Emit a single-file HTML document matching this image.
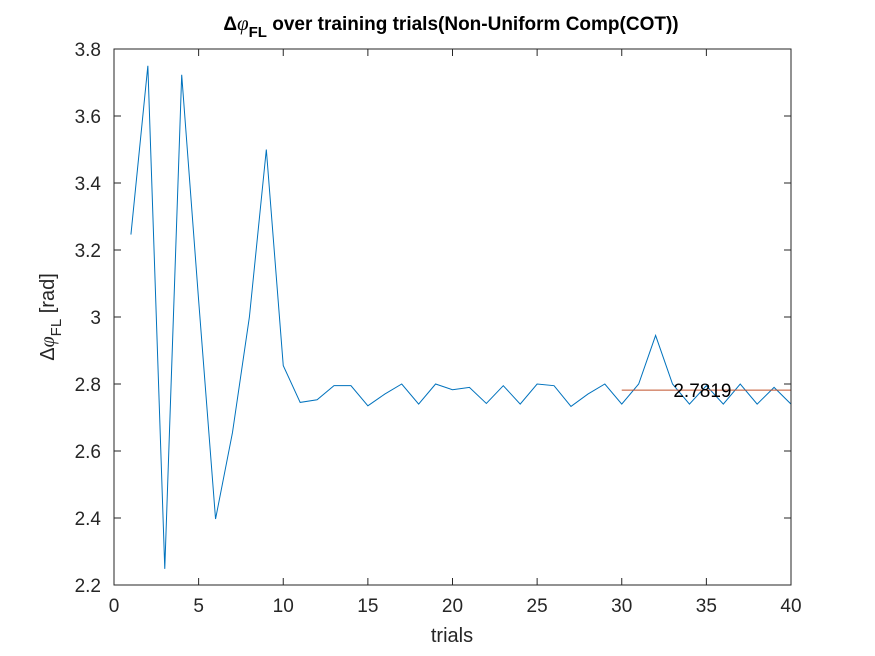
<!DOCTYPE html>
<html><head><meta charset="utf-8"><style>
html,body{margin:0;padding:0;background:#fff;width:875px;height:656px;overflow:hidden}
svg{font-family:"Liberation Sans",Arial,sans-serif}
</style></head><body>
<svg id="chart" width="875" height="656" viewBox="0 0 875 656" xmlns="http://www.w3.org/2000/svg">
<rect x="0" y="0" width="875" height="656" fill="#fff"/>
<rect x="114" y="49" width="677" height="536" fill="#fff"/>
<g id="series"></g>
<rect x="114" y="49" width="677" height="536" fill="none" stroke="#262626" stroke-width="1"/>
<g id="ticks"></g>
<text x="451" y="30" text-anchor="middle" font-size="19" font-weight="bold" fill="#000">Δ<tspan font-style="italic" font-family="Liberation Serif,serif" font-weight="normal" font-size="21">φ</tspan><tspan dy="7" font-size="15">FL</tspan><tspan dy="-7"> over training trials(Non-Uniform Comp(COT))</tspan></text>
<text x="452" y="642" text-anchor="middle" font-size="20" fill="#262626">trials</text>
<text transform="translate(54,317) rotate(-90)" text-anchor="middle" font-size="20" fill="#262626">Δ<tspan font-style="italic" font-family="Liberation Serif,serif">φ</tspan><tspan dy="7" font-size="15">FL</tspan><tspan dy="-7"> [rad]</tspan></text>
</svg>
<script>
const trials=[1,2,3,4,5,6,7,8,9,10,11,12,13,14,15,16,17,18,19,20,21,22,23,24,25,26,27,28,29,30,31,32,33,34,35,36,37,38,39,40];
const values=[3.246,3.75,2.248,3.723,3.05,2.397,2.655,3.0,3.5,2.855,2.745,2.753,2.795,2.795,2.735,2.77,2.80,2.74,2.80,2.783,2.79,2.742,2.795,2.74,2.80,2.795,2.733,2.77,2.80,2.74,2.80,2.945,2.80,2.74,2.795,2.74,2.80,2.74,2.79,2.74];
const meanValue=2.7819;
const meanRange=[30,40];
const xTicks=[0,5,10,15,20,25,30,35,40];
const yTicks=[2.2,2.4,2.6,2.8,3,3.2,3.4,3.6,3.8];
const NS="http://www.w3.org/2000/svg";
const X0=114,X1=791,Y0=585,Y1=49;
const xs=v=>X0+(v-0)/(40-0)*(X1-X0);
const ys=v=>Y0-(v-2.2)/(3.8-2.2)*(Y0-Y1);
function mk(t,a,p){const e=document.createElementNS(NS,t);for(const k in a)e.setAttribute(k,a[k]);p.appendChild(e);return e;}
const series=document.getElementById('series');
const line=mk('polyline',{points:trials.map((t,i)=>xs(t)+','+ys(values[i])).join(' '),fill:'none',stroke:'#0072BD','stroke-width':1},series);


const ml=mk('line',{x1:xs(meanRange[0]),x2:xs(meanRange[1]),y1:ys(meanValue),y2:ys(meanValue),stroke:'#C0502A','stroke-width':1},series);


const mt=mk('text',{x:xs(33.05),y:ys(meanValue)+7,'font-size':19,fill:'#000'},series);
mt.textContent=meanValue.toFixed(4);


const ticks=document.getElementById('ticks');
xTicks.forEach(v=>{
  const x=xs(v);
  mk('line',{x1:x,x2:x,y1:Y0,y2:Y0-7,stroke:'#262626'},ticks);
  mk('line',{x1:x,x2:x,y1:Y1,y2:Y1+7,stroke:'#262626'},ticks);
  const t=mk('text',{x:x,y:Y0+27,'text-anchor':'middle','font-size':19,fill:'#262626'},ticks);
  t.textContent=String(v);
  
  
});
yTicks.forEach(v=>{
  const y=ys(v);
  mk('line',{x1:X0,x2:X0+7,y1:y,y2:y,stroke:'#262626'},ticks);
  mk('line',{x1:X1,x2:X1-7,y1:y,y2:y,stroke:'#262626'},ticks);
  const t=mk('text',{x:X0-13,y:y+7,'text-anchor':'end','font-size':19,fill:'#262626'},ticks);
  t.textContent=(v===3?'3':v.toFixed(1));
  
  
});
</script>
</body></html>
